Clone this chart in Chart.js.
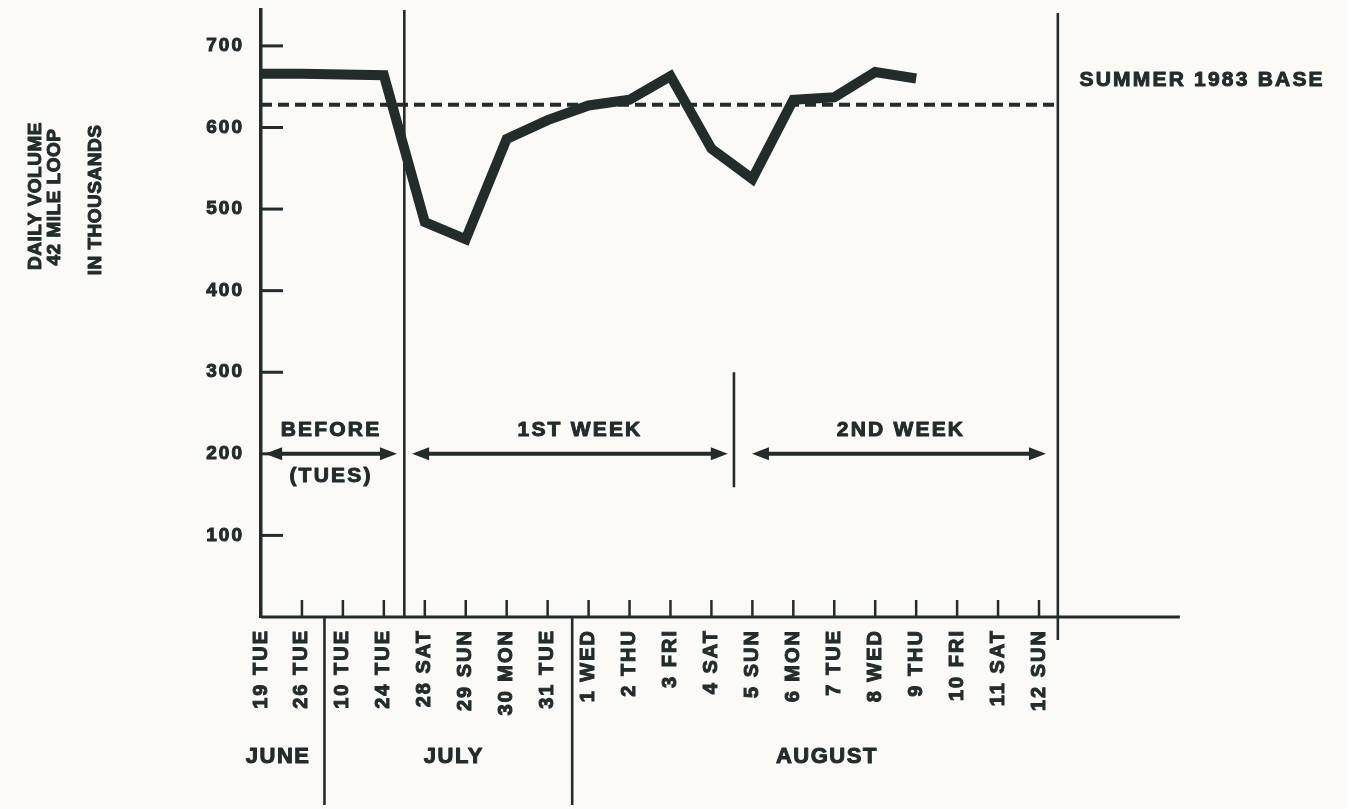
<!DOCTYPE html>
<html>
<head>
<meta charset="utf-8">
<title>Daily volume, 42 mile loop</title>
<script src="https://cdn.jsdelivr.net/npm/chart.js@4.4.1/dist/chart.umd.min.js"></script>
<style>
  html, body { margin: 0; padding: 0; background: #fbfaf6; }
  #wrap { width: 1347px; height: 809px; }
</style>
</head>
<body>
<div id="wrap"><canvas id="volumeChart" width="1347" height="809"></canvas></div>
<script>
// days on the x axis (june, july, august)
const days = ['19 TUE', '26 TUE', '10 TUE', '24 TUE', '28 SAT', '29 SUN', '30 MON', '31 TUE',
  '1 WED', '2 THU', '3 FRI', '4 SAT', '5 SUN', '6 MON', '7 TUE', '8 WED', '9 THU',
  '10 FRI', '11 SAT', '12 SUN'];
// daily volume, thousands
const dailyVolume = [666, 666, 665, 664, 484, 463, 586, 609, 627, 634, 663, 574, 537,
  634, 637, 668, 660, null, null, null];
const summerBase = 628;
const yTickValues = [100, 200, 300, 400, 500, 600, 700];

// month captions under the day labels (positions are in day-index units)
const monthNames = ['JUNE', 'JULY', 'AUGUST'];
const monthCenters = [0.42, 4.71, 13.82];
const monthBreaks = [1.55, 7.6];

// before / 1st week / 2nd week spans
const periodNames = ['BEFORE', '1ST WEEK', '2ND WEEK'];
const periodFrom = [0.1, 3.69, 11.99];
const periodTo = [3.32, 11.4, 19.17];
const periodCenters = [1.71, 7.79, 15.63];

const ink = '#212c2b';
const FONT = '"Liberation Sans", Arial, Helvetica, sans-serif';
const axisEnd = 22.44;
const startLine = 3.5, weekLine = 11.55, endLine = 19.46;

function seg(ctx, x1, y1, x2, y2) {
  ctx.beginPath();
  ctx.moveTo(x1, y1);
  ctx.lineTo(x2, y2);
  ctx.stroke();
}

function arrowHead(ctx, x, y, dir) {
  ctx.beginPath();
  ctx.moveTo(x, y);
  ctx.lineTo(x - dir * 17, y - 6.5);
  ctx.lineTo(x - dir * 17, y + 6.5);
  ctx.closePath();
  ctx.fill();
}

// heavy lettering: fill plus a thin stroke of the same ink
function heavyText(ctx, text, x, y) {
  ctx.fillText(text, x, y);
  ctx.strokeText(text, x, y);
}

const decorations = {
  id: 'decorations',
  beforeUpdate(chart) {
    chart.ctx.letterSpacing = '2px';
  },
  beforeDatasetsDraw(chart) {
    const { ctx, chartArea, scales: { x, y } } = chart;
    const base = y.getPixelForValue(0);
    ctx.save();
    ctx.strokeStyle = ink;
    ctx.fillStyle = ink;
    ctx.lineCap = 'butt';

    // x axis runs on past the last day
    ctx.lineWidth = 3;
    seg(ctx, x.getPixelForValue(0), base, x.getPixelForValue(axisEnd), base);

    // day ticks point up, value ticks point right
    ctx.lineWidth = 2.5;
    for (let i = 1; i < days.length; i++) {
      const px = x.getPixelForValue(i);
      seg(ctx, px, base, px, base - 17);
    }
    ctx.lineWidth = 3;
    yTickValues.forEach(v => {
      const py = y.getPixelForValue(v);
      seg(ctx, chartArea.left, py, chartArea.left + 22, py);
    });

    // vertical dividers
    ctx.lineWidth = 2.6;
    let px = x.getPixelForValue(startLine);
    seg(ctx, px, chartArea.top, px, base);
    px = x.getPixelForValue(endLine);
    seg(ctx, px, chartArea.top + 3, px, base + 23);
    px = x.getPixelForValue(weekLine);
    seg(ctx, px, y.getPixelForValue(300), px, y.getPixelForValue(159));
    monthBreaks.forEach(m => {
      const mx = x.getPixelForValue(m);
      seg(ctx, mx, base, mx, base + 188);
    });

    // summer 1983 base
    ctx.lineWidth = 4;
    ctx.setLineDash([11, 6]);
    const by = y.getPixelForValue(summerBase);
    seg(ctx, x.getPixelForValue(0), by, x.getPixelForValue(endLine), by);
    ctx.setLineDash([]);

    // period arrows at the 200 line
    const ay = y.getPixelForValue(200);
    ctx.lineWidth = 4;
    periodNames.forEach((name, i) => {
      const x1 = x.getPixelForValue(periodFrom[i]);
      const x2 = x.getPixelForValue(periodTo[i]);
      seg(ctx, x1 + 10, ay, x2 - 10, ay);
      arrowHead(ctx, x1, ay, -1);
      arrowHead(ctx, x2, ay, 1);
    });
    ctx.restore();
  },
  afterDraw(chart) {
    const { ctx, scales: { x, y } } = chart;
    const base = y.getPixelForValue(0);
    ctx.save();
    ctx.fillStyle = ink;
    ctx.strokeStyle = ink;
    ctx.lineWidth = 1;
    ctx.lineJoin = 'round';
    ctx.textAlign = 'center';
    ctx.textBaseline = 'middle';

    ctx.font = 'bold 21px ' + FONT;
    ctx.letterSpacing = '2.2px';
    periodNames.forEach((name, i) => {
      heavyText(ctx, name, x.getPixelForValue(periodCenters[i]), y.getPixelForValue(229));
    });
    heavyText(ctx, '(TUES)', x.getPixelForValue(periodCenters[0]), y.getPixelForValue(172));

    ctx.textAlign = 'left';
    heavyText(ctx, 'SUMMER 1983 BASE', x.getPixelForValue(19.99), y.getPixelForValue(658));

    ctx.textAlign = 'center';
    ctx.font = 'bold 22px ' + FONT;
    ctx.letterSpacing = '1.5px';
    monthNames.forEach((name, i) => {
      heavyText(ctx, name, x.getPixelForValue(monthCenters[i]), base + 140);
    });

    // axis title, read bottom to top
    ctx.font = 'bold 19px ' + FONT;
    ctx.letterSpacing = '0.5px';
    [['DAILY VOLUME', 36, 196], ['42 MILE LOOP', 55, 197], ['IN THOUSANDS', 96, 200]].forEach(t => {
      ctx.save();
      ctx.translate(t[1], t[2]);
      ctx.rotate(-Math.PI / 2);
      heavyText(ctx, t[0], 0, 0);
      ctx.restore();
    });
    ctx.restore();
  }
};

new Chart(document.getElementById('volumeChart'), {
  type: 'line',
  data: {
    labels: days,
    datasets: [{
      label: 'Daily volume',
      data: dailyVolume,
      borderColor: ink,
      borderWidth: 10,
      borderJoinStyle: 'miter',
      borderCapStyle: 'butt',
      pointRadius: 0,
      tension: 0,
      fill: false
    }]
  },
  options: {
    responsive: false,
    animation: false,
    events: [],
    layout: { padding: { top: 10, right: 308, bottom: 0, left: 0 } },
    plugins: { legend: { display: false }, tooltip: { enabled: false } },
    scales: {
      x: {
        type: 'category',
        offset: false,
        grid: { display: false, drawTicks: false },
        border: { display: false },
        ticks: {
          autoSkip: false, minRotation: 90, maxRotation: 90, padding: 12,
          color: ink, font: { family: FONT, size: 20, weight: 'bold' },
          textStrokeColor: ink, textStrokeWidth: 1
        },
        afterFit(scale) { scale.height = 192; }
      },
      y: {
        min: 0,
        max: 744,
        grid: { display: false, drawTicks: false },
        border: { display: true, color: ink, width: 3.5 },
        afterBuildTicks(scale) { scale.ticks = yTickValues.map(v => ({ value: v })); },
        ticks: {
          padding: 17, color: ink, font: { family: FONT, size: 19, weight: 'bold' },
          textStrokeColor: ink, textStrokeWidth: 1
        },
        afterFit(scale) {
          scale.width = 261;
          scale.paddingTop = 0;
          scale.paddingBottom = 0;
        }
      }
    }
  },
  plugins: [decorations]
});
</script>
</body>
</html>
